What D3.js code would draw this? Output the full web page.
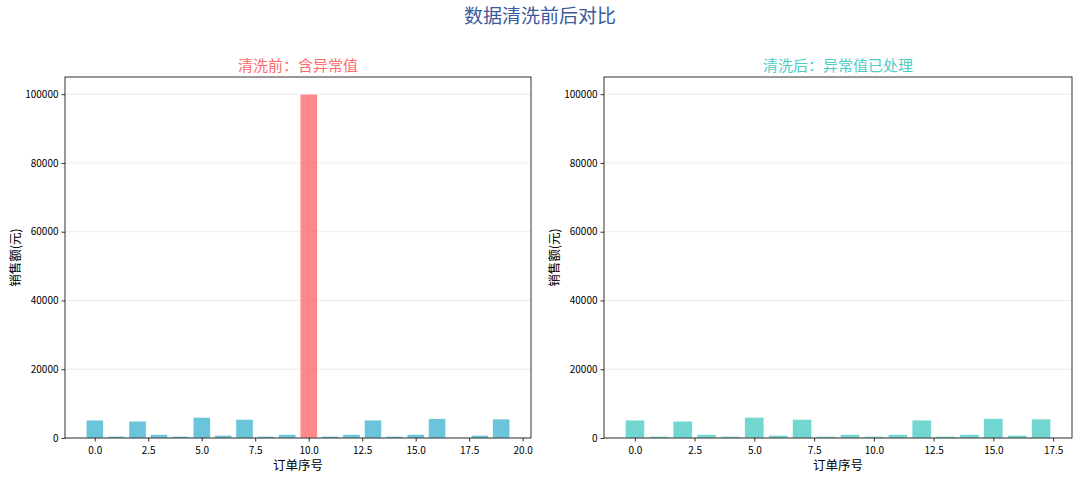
<!DOCTYPE html>
<html><head><meta charset="utf-8">
<script src="https://cdn.jsdelivr.net/npm/d3@7"></script>
<style>body{margin:0;background:#fff}</style>
</head><body>
<svg id="c" width="1080" height="479"></svg>
<script>
const suptitle = "数据清洗前后对比";
const titleBefore = "清洗前：含异常值";
const titleAfter = "清洗后：异常值已处理";
const xLabel = "订单序号";
const yLabel = "销售额(元)";
// before cleaning (null = missing value)
const beforeValues = [5200, 500, 4900, 1000, 500, 6000, 800, 5400, 500, 1000, 100000, 500, 1000, 5200, 500, 1000, 5600, null, 800, 5500];
const outlierIndex = 10;
// after cleaning
const afterValues = [5200, 500, 4900, 1000, 500, 6000, 800, 5400, 500, 1000, 500, 1000, 5200, 500, 1000, 5600, 800, 5500];
const yTicks = [0, 20000, 40000, 60000, 80000, 100000];
const xTicks = [0, 2.5, 5, 7.5, 10, 12.5, 15, 17.5, 20];

const svg = d3.select("#c");
const font = "'Noto Sans CJK SC', 'Liberation Sans', sans-serif";

svg.append("text").attr("x", 540).attr("y", 23).attr("text-anchor", "middle")
  .attr("font-family", font).attr("font-size", 19).attr("fill", "#3a5a9c").text(suptitle);

function panel(x0, x1, values, title, titleColor, colorFn) {
  const top = 77, bottom = 438;
  const n = values.length;
  const span = (n - 1 + 0.8);
  const x = d3.scaleLinear().domain([-0.4 - span * 0.05, n - 1 + 0.4 + span * 0.05]).range([x0, x1]);
  const y = d3.scaleLinear().domain([0, 105000]).range([bottom, top]);
  const g = svg.append("g");
  g.selectAll(".grid").data(yTicks).join("line")
    .attr("x1", x0).attr("x2", x1).attr("y1", d => y(d)).attr("y2", d => y(d))
    .attr("stroke", "#b0b0b0").attr("stroke-opacity", 0.3).attr("stroke-width", 0.8);
  const idx = d3.range(n).filter(i => values[i] != null);
  g.selectAll(".bar").data(idx).join("rect")
    .attr("x", i => x(i - 0.4)).attr("width", i => x(i + 0.4) - x(i - 0.4))
    .attr("y", i => y(values[i])).attr("height", i => y(0) - y(values[i]))
    .attr("fill", i => colorFn(i)).attr("fill-opacity", 0.8)
    .attr("stroke", "#fff").attr("stroke-width", 0.5);
  const xt = xTicks.filter(t => t >= x.domain()[0] && t <= x.domain()[1]);
  const xa = g.append("g").attr("transform", `translate(0,${bottom})`)
    .call(d3.axisBottom(x).tickValues(xt).tickFormat(d3.format(".1f")).tickSizeOuter(0).tickSize(3.5));
  const ya = g.append("g").attr("transform", `translate(${x0},0)`)
    .call(d3.axisLeft(y).tickValues(yTicks).tickFormat(d => d).tickSizeOuter(0).tickSize(3.5));
  [xa, ya].forEach(a => {
    a.select(".domain").remove();
    a.selectAll("text").attr("font-family", font).attr("font-size", 10).attr("fill", "#000");
    a.selectAll("line").attr("stroke", "#000").attr("stroke-width", 0.8);
  });
  xa.selectAll("text").attr("dy", "0.9em");
  g.append("rect").attr("x", x0).attr("y", top).attr("width", x1 - x0).attr("height", bottom - top)
    .attr("fill", "none").attr("stroke", "#000").attr("stroke-width", 0.8);
  g.append("text").attr("x", (x0 + x1) / 2).attr("y", 71).attr("text-anchor", "middle")
    .attr("font-family", font).attr("font-size", 15).attr("fill", titleColor).text(title);
  g.append("text").attr("x", (x0 + x1) / 2).attr("y", 470).attr("text-anchor", "middle")
    .attr("font-family", font).attr("font-size", 12.5).attr("fill", "#000").text(xLabel);
  g.append("text").attr("transform", `translate(${x0 - 45},${(top + bottom) / 2}) rotate(-90)`)
    .attr("text-anchor", "middle")
    .attr("font-family", font).attr("font-size", 12.5).attr("fill", "#000").text(yLabel);
}

panel(65, 531, beforeValues, titleBefore, "#ff6b6b", i => i === outlierIndex ? "#ff6b6b" : "#45b7d1");
panel(604, 1072, afterValues, titleAfter, "#4ecdc4", i => "#4ecdc4");
</script>
</body></html>
